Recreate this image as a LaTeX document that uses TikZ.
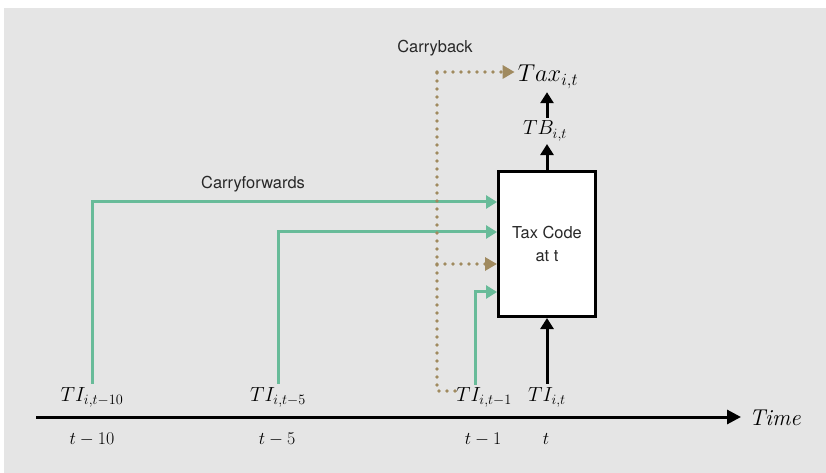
\RequirePackage{fix-cm}
\documentclass[tikz,border=0pt]{standalone}
\usepackage{fontspec}
\setsansfont{TeX Gyre Heros}
\usetikzlibrary{arrows.meta}
\definecolor{bgc}{RGB}{229,229,229}
\definecolor{grn}{RGB}{104,187,153}
\definecolor{brn}{RGB}{160,138,95}
\definecolor{txt}{RGB}{40,40,40}
\tikzset{
  grnarrow/.style={draw=grn, line width=3bp, -{Triangle[length=11bp,width=13bp]}},
  brnarrow/.style={draw=brn, line width=3.6bp, line cap=round, dash pattern=on 0bp off 8bp, -{Triangle[length=12bp,width=13bp,fill=brn]}},
  brnline/.style={draw=brn, line width=3.6bp, line cap=round, dash pattern=on 0bp off 8bp},
  blkarrow/.style={draw=black, line width=3bp, -{Triangle[length=11bp,width=13bp]}},
  mlab/.style={font=\fontsize{20.5}{24}\selectfont, anchor=base, inner sep=3bp},
  tlab/.style={font=\fontsize{18}{22}\selectfont, anchor=base, inner sep=2bp},
  slab/.style={font=\sffamily\fontsize{16.5}{20}\selectfont, text=txt, anchor=base, inner sep=1bp},
}
\begin{document}
\begin{tikzpicture}[x=1bp,y=-1bp]
\useasboundingbox (0,0) rectangle (826,473);
\fill[bgc] (4,8) rectangle (826,473);

% time axis
\coordinate (axs) at (36,417);
\node[font=\fontsize{23}{27}\selectfont, anchor=base west, inner sep=0bp] (time) at (749,425) {$\mathit{Time}$};
\draw[line width=3bp, -{Triangle[length=14bp,width=14bp]}] (axs) -- ([xshift=-8bp]axs -| time.west);

% period labels
\node[tlab] (p10) at (92,444) {$t-10$};
\node[tlab] (p5) at (277,444) {$t-5$};
\node[tlab] (p1) at (483,444) {$t-1$};
\node[tlab] (p0) at (546,444) {$t$};

% TI labels
\node[mlab] (ti10) at (92,401) {$TI_{i,t-10}$};
\node[mlab] (ti5) at (278,401) {$TI_{i,t-5}$};
\node[mlab] (ti1) at (484,401) {$TI_{i,t-1}$};
\node[mlab] (tit) at (547,401) {$TI_{i,t}$};

% tax code box
\node[draw=black, line width=3bp, fill=white, minimum width=97bp, minimum height=145bp,
      align=center, font=\sffamily\fontsize{16.5}{23}\selectfont, text=txt] (box) at (547,244) {Tax Code\\at t};

% outputs
\node[mlab] (tb) at (545,135) {$TB_{i,t}$};
\node[font=\fontsize{24.5}{28}\selectfont, anchor=base, inner sep=3bp] (tax) at (548,82) {$Tax_{i,t}$};

\draw[blkarrow] (tit.north -| box.south) -- (box.south);
\draw[blkarrow] (box.north) -- (tb.south -| box.north);
\draw[blkarrow] (tb.north -| box.north) -- (tax.south -| box.north);

% carryforwards
\draw[grnarrow] (ti10.north) |- ([yshift=42bp]box.west);
\draw[grnarrow] (ti5.north) |- ([yshift=12bp]box.west);
\draw[grnarrow] ([xshift=-9bp,yshift=-1bp]ti1.north) |- ([yshift=-48bp]box.west);
\node[slab] (cf) at (253,189) {Carryforwards};

% carryback
\coordinate (cbs) at (455,391);
\coordinate (cbc) at (437,72);
\coordinate (cbm) at (437,264);
\draw[brnline] (cbs) -| (cbc);
\draw[brnarrow] (cbc) -- (cbc -| tax.west);
\draw[brnarrow] (cbm) -- (cbm -| box.west);
\node[slab] (cb) at (435,53) {Carryback};
\end{tikzpicture}
\end{document}
